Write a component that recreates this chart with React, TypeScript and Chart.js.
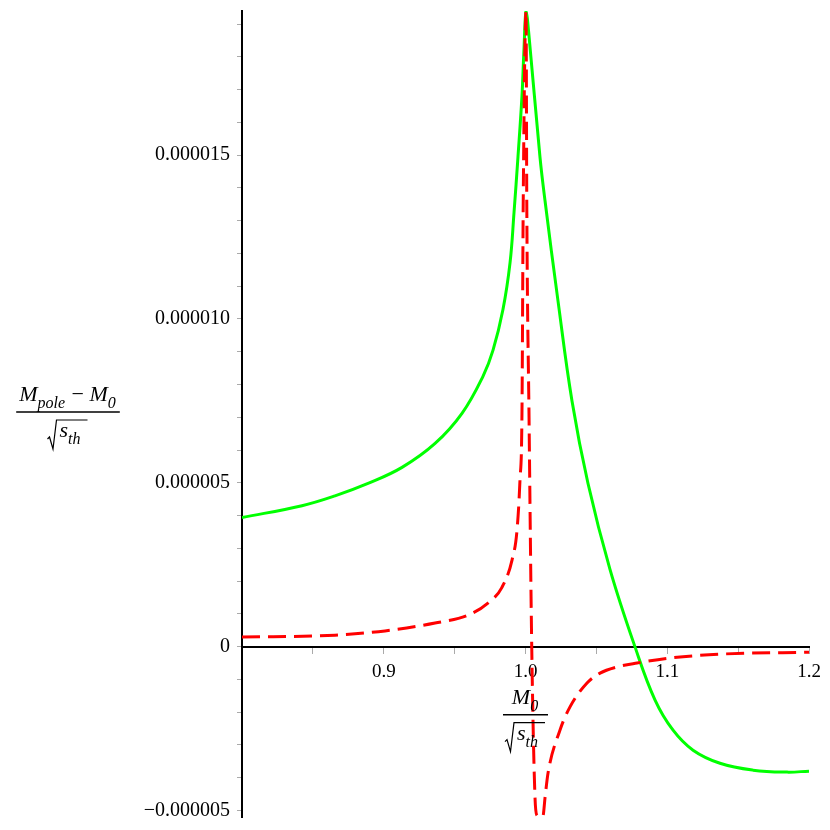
import { useEffect, useRef } from 'react';
import { Chart, registerables } from 'chart.js';

Chart.register(...registerables);

// ---- Data (y values in units of 1e-6) ----
const greenX = [0.8, 0.8423, 0.8656, 0.8889, 0.9129, 0.9362, 0.9552, 0.97, 0.9771, 0.9841, 0.9891, 0.9919,
  0.9947, 0.9975, 0.9989, 1.0004, 1.0022, 1.0102, 1.0138, 1.0229, 1.0328, 1.0441, 1.0596, 1.0772, 1.0914,
  1.1041, 1.1182, 1.1372, 1.1605, 1.1845, 1.2];
const greenY = [3.94, 4.3, 4.6, 4.98, 5.47, 6.2, 7.12, 8.25, 9.05, 10.29, 11.72, 13.25,
  14.95, 16.8, 18.2, 19.4, 18.77, 14.95, 13.6, 10.56, 7.5, 4.98, 2.36, 0, -1.63,
  -2.55, -3.16, -3.56, -3.77, -3.83, -3.8];

const redX = [0.8, 0.8656, 0.9009, 0.9362, 0.9594, 0.9735, 0.9834, 0.9905, 0.994, 0.9961, 0.9975, 0.9984, 1.0004,
  1.0009, 1.0025, 1.0044, 1.0067, 1.0081, 1.0102, 1.0123, 1.0138, 1.0159, 1.0243, 1.0314, 1.0434, 1.0526, 1.0646,
  1.0787, 1.1019, 1.1372, 1.2];
const redY = [0.29, 0.35, 0.48, 0.72, 0.96, 1.33, 1.81, 2.64, 3.55, 5.08, 7.1, 13.6, 19.4,
  13.6, 7.0, 0, -4.6, -5.15, -5.2, -5.17, -4.6, -3.86, -2.55, -1.84, -1.11, -0.81, -0.62,
  -0.5, -0.35, -0.23, -0.17];

const xLabelTicks = [0.9, 1.0, 1.1, 1.2];
const yLabelTicks = [-5e-6, 0, 5e-6, 10e-6, 15e-6];

const X_MIN = 0.8;
const X_MAX = 1.2;
const Y_MIN = -5.2e-6;
const Y_MAX = 19.4e-6;

const FONT = '"Liberation Serif", "Times New Roman", serif';

type Part = { t: string; it?: boolean; sub?: boolean };

const yNum: Part[] = [
  { t: 'M', it: true }, { t: 'pole', it: true, sub: true }, { t: ' \u2212 ' },
  { t: 'M', it: true }, { t: '0', it: true, sub: true },
];
const xNum: Part[] = [{ t: 'M', it: true }, { t: '0', it: true, sub: true }];
const denParts: Part[] = [{ t: 's', it: true }, { t: 'th', it: true, sub: true }];

const MAIN = 22;
const SUB = 16;
const SUB_DROP = 7;

function setFont(ctx: CanvasRenderingContext2D, p: Part) {
  ctx.font = `${p.it ? 'italic ' : ''}${p.sub ? SUB : MAIN}px ${FONT}`;
}
function partsWidth(ctx: CanvasRenderingContext2D, parts: Part[]) {
  let w = 0;
  for (const p of parts) { setFont(ctx, p); w += ctx.measureText(p.t).width + (p.sub ? 1 : 0); }
  return w;
}
function drawParts(ctx: CanvasRenderingContext2D, parts: Part[], x: number, baseline: number) {
  ctx.textBaseline = 'alphabetic';
  ctx.textAlign = 'left';
  for (const p of parts) {
    setFont(ctx, p);
    ctx.fillText(p.t, x, baseline + (p.sub ? SUB_DROP : 0));
    x += ctx.measureText(p.t).width + (p.sub ? 1 : 0);
  }
}
function drawFraction(ctx: CanvasRenderingContext2D, cx: number, barY: number, num: Part[], den: Part[]) {
  ctx.save();
  ctx.fillStyle = '#000';
  ctx.strokeStyle = '#000';
  const numW = partsWidth(ctx, num);
  const radW = 11;
  const denTextW = partsWidth(ctx, den);
  const denW = radW + denTextW + 6;
  const barW = Math.max(numW, denW) + 6;
  // bar
  ctx.lineWidth = 1.5;
  ctx.beginPath();
  ctx.moveTo(cx - barW / 2, barY);
  ctx.lineTo(cx + barW / 2, barY);
  ctx.stroke();
  // numerator
  drawParts(ctx, num, cx - numW / 2, barY - 11);
  // denominator with radical
  const b = barY + 25;
  const x0 = cx - denW / 2;
  ctx.lineWidth = 1.2;
  ctx.beginPath();
  ctx.moveTo(x0 - 1, b + 2);
  ctx.lineTo(x0 + 1, b);
  ctx.lineTo(x0 + 4.5, b + 12);
  ctx.lineTo(x0 + 8, b - 17);
  ctx.lineTo(x0 + denW, b - 17);
  ctx.stroke();
  drawParts(ctx, den, x0 + radW, b);
  ctx.restore();
}

const near = (a: number, b: number, tol: number) => Math.abs(a - b) < tol;

function yLabel(v: number): string {
  if (!yLabelTicks.some((t) => near(t, v, 1e-9))) return '';
  if (near(v, 0, 1e-9)) return '0';
  const s = Math.abs(v).toFixed(6);
  return v < 0 ? '\u2212' + s : s;
}
function xLabel(v: number): string {
  const t = xLabelTicks.find((t) => near(t, v, 1e-6));
  return t === undefined ? '' : t.toFixed(1);
}

const fractionPlugin = {
  id: 'fractionTitles',
  afterDraw(chart: any) {
    const c = chart.ctx as CanvasRenderingContext2D;
    const area = chart.chartArea;
    const axisY = chart.scales.y.getPixelForValue(0);
    drawFraction(c, 68, (area.top + area.bottom) / 2 - 2, yNum, denParts);
    drawFraction(c, (area.left + area.right) / 2, axisY + 68, xNum, denParts);
  },
};

export default function App() {
  const ref = useRef<HTMLCanvasElement>(null);
  useEffect(() => {
    const canvas = ref.current;
    if (!canvas) return;
    const chart = new Chart(canvas, {
      type: 'line',
      data: {
        datasets: [
          {
            label: 'red',
            data: redX.map((x, i) => ({ x, y: redY[i] * 1e-6 })),
            borderColor: '#ff0000',
            borderWidth: 3,
            borderDash: [18, 8],
            pointRadius: 0,
            cubicInterpolationMode: 'monotone',
            fill: false,
          },
          {
            label: 'green',
            data: greenX.map((x, i) => ({ x, y: greenY[i] * 1e-6 })),
            borderColor: '#00ff00',
            borderWidth: 3,
            pointRadius: 0,
            tension: 0.4,
            fill: false,
          },
        ],
      },
      options: {
        responsive: false,
        animation: false,
        layout: { padding: { top: 11, bottom: 13, right: 21, left: 0 } },
        plugins: { legend: { display: false }, tooltip: { enabled: false } },
        scales: {
          x: {
            type: 'linear',
            min: X_MIN,
            max: X_MAX,
            position: { y: 0 } as any,
            afterFit: (s: any) => { s.paddingLeft = 0; s.paddingRight = 0; s.paddingTop = 0; s.paddingBottom = 0; },
            grid: { drawOnChartArea: false, drawTicks: true, tickLength: 6, tickColor: '#aaa', tickWidth: 1 },
            border: { color: '#000', width: 2 },
            ticks: {
              stepSize: 0.05,
              autoSkip: false,
              includeBounds: false,
              maxTicksLimit: 100,
              maxRotation: 0,
              color: '#000',
              padding: 8,
              font: { family: FONT, size: 19 },
              callback: (v: any) => xLabel(Number(v)),
            },
          },
          y: {
            type: 'linear',
            min: Y_MIN,
            max: Y_MAX,
            position: 'left',
            afterFit: (s: any) => { s.width = 242; s.paddingTop = 0; s.paddingBottom = 0; s.paddingLeft = 0; s.paddingRight = 0; },
            grid: { drawOnChartArea: false, drawTicks: true, tickLength: 5, tickColor: '#aaa', tickWidth: 1 },
            border: { color: '#000', width: 2 },
            ticks: {
              stepSize: 1e-6,
              autoSkip: false,
              includeBounds: false,
              maxTicksLimit: 100,
              color: '#000',
              padding: 7,
              font: { family: FONT, size: 20 },
              callback: (v: any) => yLabel(Number(v)),
            },
          },
        },
      },
      plugins: [fractionPlugin],
    });
    return () => chart.destroy();
  }, []);
  return (
    <div style={{ position: 'fixed', left: 0, top: 0, width: 830, height: 830, background: '#fff' }}>
      <canvas ref={ref} width={830} height={830} />
    </div>
  );
}
